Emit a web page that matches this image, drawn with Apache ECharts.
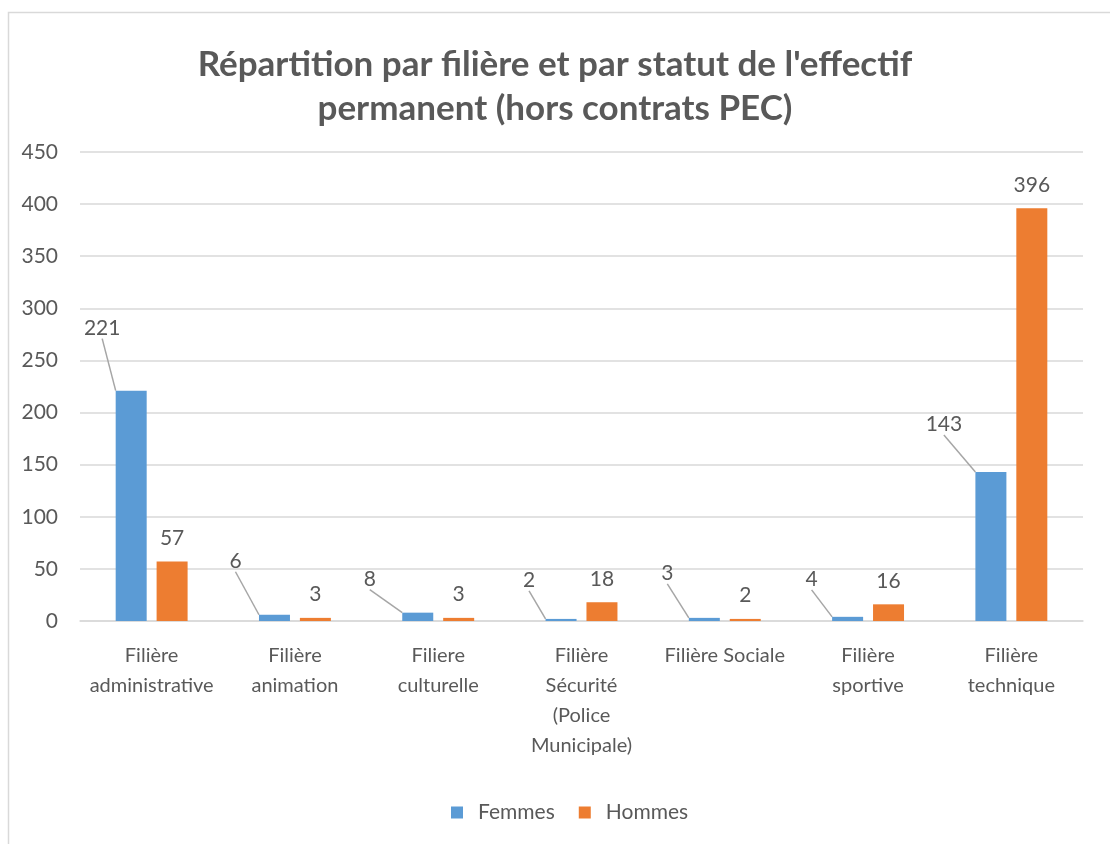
<!DOCTYPE html>
<html>
<head>
<meta charset="utf-8">
<script src="https://cdn.jsdelivr.net/npm/echarts@6/dist/echarts.min.js"></script>
<style>
  html, body { margin: 0; padding: 0; background: #fff; }
  #chart { width: 1110px; height: 844px; }
</style>
</head>
<body>
<div id="chart"></div>
<script>
// catégories (axe X)
const categories = [
  'Filière\nadministrative',
  'Filière\nanimation',
  'Filiere\nculturelle',
  'Filière\nSécurité\n(Police\nMunicipale)',
  'Filière Sociale',
  'Filière\nsportive',
  'Filière\ntechnique'
];
const femmes = [221, 6, 8, 2, 3, 4, 143];
const hommes = [57, 3, 3, 18, 2, 16, 396];
const yTicks = { min: 0, max: 450, interval: 50 };

// décalage des étiquettes "Femmes" (dx, dy) façon Excel
const femmesLabelShift = [
  [-29, -47], [-39, -38], [-48, -18], [-32, -23], [-37, -29], [-36, -22], [-47, -32]
];

const fontFamily = 'Lato, "Open Sans", sans-serif';
const textColor = '#595959';

const chart = echarts.init(document.getElementById('chart'));

chart.setOption({
  backgroundColor: '#fff',
  animation: false,
  textStyle: { fontFamily: fontFamily },
  graphic: [
    {
      type: 'rect',
      shape: { x: 8.5, y: 12.5, width: 1200, height: 900 },
      style: { fill: 'none', stroke: '#d9d9d9', lineWidth: 1.5 },
      silent: true
    }
  ],
  title: {
    text: "Répartition par filière et par statut de l'effectif\npermanent (hors contrats PEC)",
    left: 'center',
    top: 38,
    textStyle: {
      color: textColor,
      fontSize: 35,
      fontWeight: 'bold',
      lineHeight: 44,
      fontFamily: fontFamily
    }
  },
  legend: {
    data: ['Femmes', 'Hommes'],
    bottom: 16,
    left: 446,
    itemWidth: 12,
    itemHeight: 12,
    itemGap: 24,
    icon: 'rect',
    textStyle: {
      color: textColor,
      fontSize: 21,
      padding: [0, 0, 0, 10],
      fontFamily: fontFamily
    }
  },
  grid: { left: 80, right: 27, top: 152, bottom: 223 },
  xAxis: {
    type: 'category',
    data: categories,
    axisLine: { show: true, lineStyle: { color: '#d9d9d9', width: 1.5 } },
    axisTick: { show: false },
    axisLabel: {
      color: textColor,
      fontSize: 20,
      lineHeight: 30,
      margin: 20,
      interval: 0,
      fontFamily: fontFamily
    }
  },
  yAxis: {
    type: 'value',
    min: yTicks.min,
    max: yTicks.max,
    interval: yTicks.interval,
    axisLine: { show: false },
    axisTick: { show: false },
    splitLine: { lineStyle: { color: '#d9d9d9', width: 1.5 } },
    axisLabel: { color: textColor, fontSize: 21, margin: 22, fontFamily: fontFamily }
  },
  series: [
    {
      name: 'Femmes',
      type: 'bar',
      data: femmes,
      barWidth: 31,
      barGap: '32%',
      itemStyle: { color: '#5B9BD5' },
      label: {
        show: true,
        position: 'top',
        distance: 5,
        color: textColor,
        fontSize: 21,
        fontFamily: fontFamily
      },
      labelLine: { show: true, lineStyle: { color: '#a6a6a6', width: 1.5 } },
      labelLayout: function (params) {
        const s = femmesLabelShift[params.dataIndex];
        return { dx: s[0], dy: s[1] };
      }
    },
    {
      name: 'Hommes',
      type: 'bar',
      data: hommes,
      barWidth: 31,
      itemStyle: { color: '#ED7D31' },
      label: {
        show: true,
        position: 'top',
        distance: 13,
        color: textColor,
        fontSize: 21,
        fontFamily: fontFamily
      }
    }
  ]
});
</script>
</body>
</html>
